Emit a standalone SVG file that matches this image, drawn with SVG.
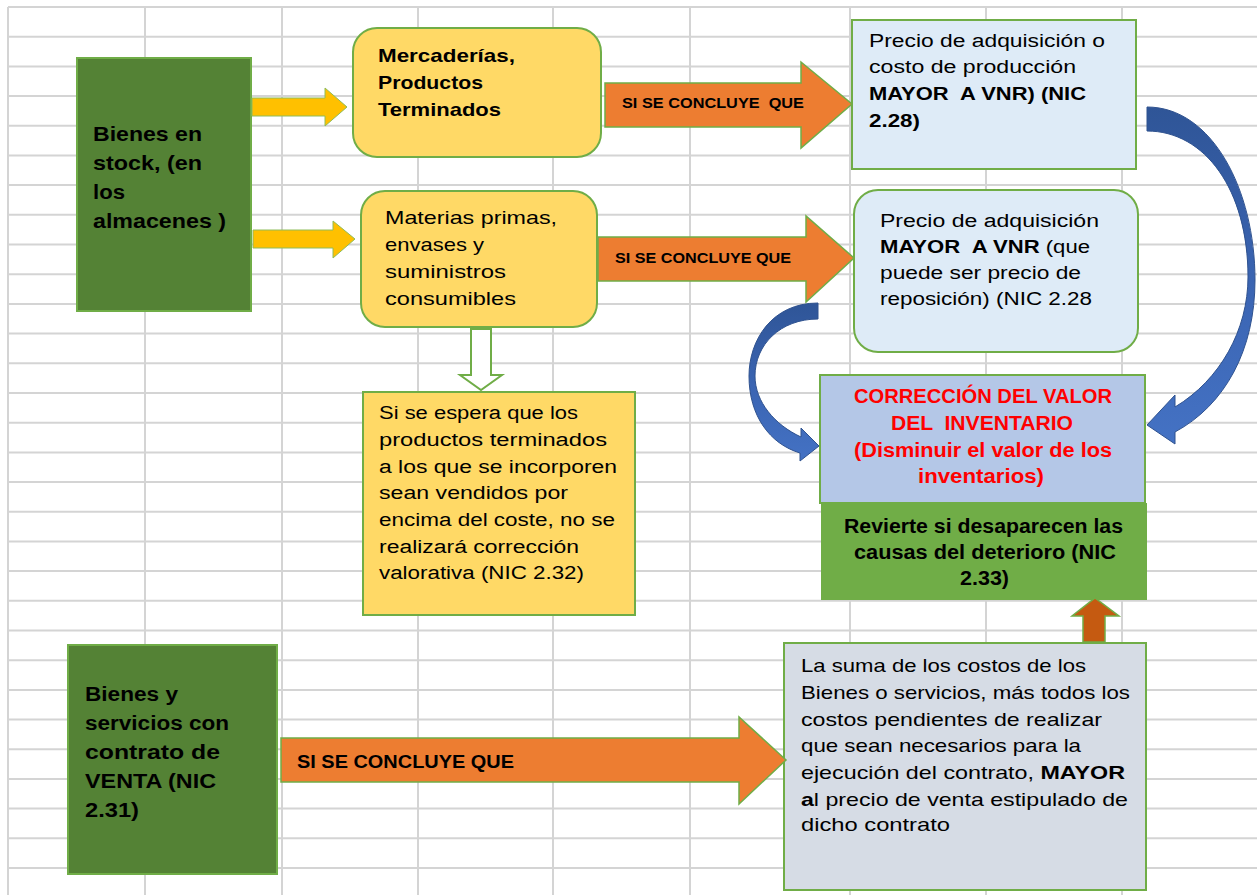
<svg xmlns="http://www.w3.org/2000/svg" width="1257" height="895" viewBox="0 0 1257 895">
<defs>
<linearGradient id="blueGrad" x1="0" y1="0" x2="0" y2="1">
<stop offset="0" stop-color="#2f5597"/>
<stop offset="0.55" stop-color="#3b65b3"/>
<stop offset="1" stop-color="#4472c4"/>
</linearGradient>
</defs>
<style>
.grid line{stroke:#d4d4d4;stroke-width:2}
.box{stroke:#70ad47;stroke-width:2}
.t{font-family:"Liberation Sans",Arial,sans-serif;fill:#000;white-space:pre}
.b{font-weight:bold}
.r{fill:#ff0000}
.arrowY{fill:#ffc000;stroke:#8fbc5a;stroke-width:1}
.arrowO{fill:#ed7d31;stroke:#70ad47;stroke-width:1.5}
.curve{fill:url(#blueGrad);stroke:#2f528f;stroke-width:1}
</style>
<rect width="1257" height="895" fill="#ffffff"/>
<g class="grid">
<line x1="8" y1="7" x2="8" y2="895"/>
<line x1="145" y1="7" x2="145" y2="895"/>
<line x1="282" y1="7" x2="282" y2="895"/>
<line x1="418" y1="7" x2="418" y2="895"/>
<line x1="553" y1="7" x2="553" y2="895"/>
<line x1="690" y1="7" x2="690" y2="895"/>
<line x1="850" y1="7" x2="850" y2="895"/>
<line x1="986" y1="7" x2="986" y2="895"/>
<line x1="1122" y1="7" x2="1122" y2="895"/>
<line x1="8" y1="7" x2="1257" y2="7"/>
<line x1="8" y1="36.7" x2="1257" y2="36.7"/>
<line x1="8" y1="66.4" x2="1257" y2="66.4"/>
<line x1="8" y1="96.1" x2="1257" y2="96.1"/>
<line x1="8" y1="125.8" x2="1257" y2="125.8"/>
<line x1="8" y1="155.5" x2="1257" y2="155.5"/>
<line x1="8" y1="185.1" x2="1257" y2="185.1"/>
<line x1="8" y1="214.8" x2="1257" y2="214.8"/>
<line x1="8" y1="244.5" x2="1257" y2="244.5"/>
<line x1="8" y1="274.2" x2="1257" y2="274.2"/>
<line x1="8" y1="303.9" x2="1257" y2="303.9"/>
<line x1="8" y1="333.6" x2="1257" y2="333.6"/>
<line x1="8" y1="363.3" x2="1257" y2="363.3"/>
<line x1="8" y1="393" x2="1257" y2="393"/>
<line x1="8" y1="422.7" x2="1257" y2="422.7"/>
<line x1="8" y1="452.4" x2="1257" y2="452.4"/>
<line x1="8" y1="482" x2="1257" y2="482"/>
<line x1="8" y1="511.7" x2="1257" y2="511.7"/>
<line x1="8" y1="541.4" x2="1257" y2="541.4"/>
<line x1="8" y1="571.1" x2="1257" y2="571.1"/>
<line x1="8" y1="600.8" x2="1257" y2="600.8"/>
<line x1="8" y1="630.5" x2="1257" y2="630.5"/>
<line x1="8" y1="660.2" x2="1257" y2="660.2"/>
<line x1="8" y1="689.9" x2="1257" y2="689.9"/>
<line x1="8" y1="719.6" x2="1257" y2="719.6"/>
<line x1="8" y1="749.3" x2="1257" y2="749.3"/>
<line x1="8" y1="778.9" x2="1257" y2="778.9"/>
<line x1="8" y1="808.6" x2="1257" y2="808.6"/>
<line x1="8" y1="838.3" x2="1257" y2="838.3"/>
<line x1="8" y1="868" x2="1257" y2="868"/>
</g>

<g id="bienes-stock">
<rect class="box" x="77" y="58" width="174" height="253" fill="#548235"/>
<text class="t b" font-size="21"><tspan x="93" y="141" textLength="109" lengthAdjust="spacingAndGlyphs">Bienes en</tspan></text>
<text class="t b" font-size="21"><tspan x="93" y="170" textLength="109" lengthAdjust="spacingAndGlyphs">stock, (en</tspan></text>
<text class="t b" font-size="21"><tspan x="93" y="199" textLength="32" lengthAdjust="spacingAndGlyphs">los</tspan></text>
<text class="t b" font-size="21"><tspan x="93" y="228" textLength="133" lengthAdjust="spacingAndGlyphs">almacenes )</tspan></text>
</g>

<g id="mercaderias">
<rect class="box" x="353" y="28" width="248" height="129" rx="24" fill="#ffd966"/>
<text class="t b" font-size="19" x="378" y="62" textLength="137" lengthAdjust="spacingAndGlyphs">Mercaderías,</text>
<text class="t b" font-size="19" x="378" y="89" textLength="105" lengthAdjust="spacingAndGlyphs">Productos</text>
<text class="t b" font-size="19" x="378" y="116" textLength="123" lengthAdjust="spacingAndGlyphs">Terminados</text>
</g>

<g id="materias-primas">
<rect class="box" x="361" y="191" width="236" height="136" rx="24" fill="#ffd966"/>
<text class="t" font-size="18.5" x="385" y="224" textLength="172" lengthAdjust="spacingAndGlyphs">Materias primas,</text>
<text class="t" font-size="18.5" x="385" y="251" textLength="99" lengthAdjust="spacingAndGlyphs">envases y</text>
<text class="t" font-size="18.5" x="385" y="278" textLength="121" lengthAdjust="spacingAndGlyphs">suministros</text>
<text class="t" font-size="18.5" x="385" y="305" textLength="131" lengthAdjust="spacingAndGlyphs">consumibles</text>
</g>

<g id="si-se-espera">
<rect class="box" x="363" y="392" width="272" height="223" fill="#ffd966"/>
<text class="t" font-size="18" x="379" y="419" textLength="199" lengthAdjust="spacingAndGlyphs">Si se espera que los</text>
<text class="t" font-size="18" x="379" y="446" textLength="228" lengthAdjust="spacingAndGlyphs">productos terminados</text>
<text class="t" font-size="18" x="379" y="473" textLength="238" lengthAdjust="spacingAndGlyphs">a los que se incorporen</text>
<text class="t" font-size="18" x="379" y="499" textLength="189" lengthAdjust="spacingAndGlyphs">sean vendidos por</text>
<text class="t" font-size="18" x="379" y="526" textLength="236" lengthAdjust="spacingAndGlyphs">encima del coste, no se</text>
<text class="t" font-size="18" x="379" y="553" textLength="200" lengthAdjust="spacingAndGlyphs">realizará corrección</text>
<text class="t" font-size="18" x="379" y="579" textLength="205" lengthAdjust="spacingAndGlyphs">valorativa (NIC 2.32)</text>
</g>

<g id="precio-costo">
<rect class="box" x="852" y="20" width="284" height="149" fill="#deebf7"/>
<text class="t" font-size="18" x="869" y="47" textLength="236" lengthAdjust="spacingAndGlyphs">Precio de adquisición o</text>
<text class="t" font-size="18" x="869" y="73" textLength="207" lengthAdjust="spacingAndGlyphs">costo de producción</text>
<text class="t b" font-size="18" x="869" y="100" textLength="217" lengthAdjust="spacingAndGlyphs">MAYOR  A VNR) (NIC</text>
<text class="t b" font-size="18" x="869" y="127" textLength="51" lengthAdjust="spacingAndGlyphs">2.28)</text>
</g>

<g id="precio-adquisicion">
<rect class="box" x="854" y="190" width="284" height="162" rx="24" fill="#deebf7"/>
<text class="t" font-size="18" x="880" y="227" textLength="219" lengthAdjust="spacingAndGlyphs">Precio de adquisición</text>
<text class="t" font-size="18" x="880" y="253" textLength="210" lengthAdjust="spacingAndGlyphs"><tspan class="b">MAYOR  A VNR</tspan> (que</text>
<text class="t" font-size="18" x="880" y="279" textLength="201" lengthAdjust="spacingAndGlyphs">puede ser precio de</text>
<text class="t" font-size="18" x="880" y="305" textLength="212" lengthAdjust="spacingAndGlyphs">reposición) (NIC 2.28</text>
</g>

<g id="correccion">
<rect class="box" x="820" y="375" width="325" height="128" fill="#b4c7e7"/>
<text class="t b r" font-size="20" x="854" y="403" textLength="258" lengthAdjust="spacingAndGlyphs">CORRECCIÓN DEL VALOR</text>
<text class="t b r" font-size="20" x="891" y="430" textLength="182" lengthAdjust="spacingAndGlyphs">DEL  INVENTARIO</text>
<text class="t b r" font-size="20" x="854" y="457" textLength="258" lengthAdjust="spacingAndGlyphs">(Disminuir el valor de los</text>
<text class="t b r" font-size="20" x="918" y="483" textLength="126" lengthAdjust="spacingAndGlyphs">inventarios)</text>
</g>

<g id="revierte">
<rect x="821" y="503" width="326" height="97" fill="#70ad47"/>
<text class="t b" font-size="19.5" x="844" y="533" textLength="279" lengthAdjust="spacingAndGlyphs">Revierte si desaparecen las</text>
<text class="t b" font-size="19.5" x="854" y="559" textLength="262" lengthAdjust="spacingAndGlyphs">causas del deterioro (NIC</text>
<text class="t b" font-size="19.5" x="960" y="585" textLength="49" lengthAdjust="spacingAndGlyphs">2.33)</text>
</g>

<g id="bienes-servicios">
<rect class="box" x="68" y="645" width="209" height="229" fill="#548235"/>
<text class="t b" font-size="20" x="85" y="701" textLength="93" lengthAdjust="spacingAndGlyphs">Bienes y</text>
<text class="t b" font-size="20" x="85" y="730" textLength="144" lengthAdjust="spacingAndGlyphs">servicios con</text>
<text class="t b" font-size="20" x="85" y="759" textLength="135" lengthAdjust="spacingAndGlyphs">contrato de</text>
<text class="t b" font-size="20" x="85" y="788" textLength="131" lengthAdjust="spacingAndGlyphs">VENTA (NIC</text>
<text class="t b" font-size="20" x="85" y="817" textLength="54" lengthAdjust="spacingAndGlyphs">2.31)</text>
</g>

<g id="la-suma">
<rect class="box" x="784" y="643" width="362" height="247" fill="#d6dce5"/>
<text class="t" font-size="18.5" x="801" y="672" textLength="285" lengthAdjust="spacingAndGlyphs">La suma de los costos de los</text>
<text class="t" font-size="18.5" x="801" y="699" textLength="329" lengthAdjust="spacingAndGlyphs">Bienes o servicios, más todos los</text>
<text class="t" font-size="18.5" x="801" y="726" textLength="301" lengthAdjust="spacingAndGlyphs">costos pendientes de realizar</text>
<text class="t" font-size="18.5" x="801" y="752" textLength="280" lengthAdjust="spacingAndGlyphs">que sean necesarios para la</text>
<text class="t" font-size="18.5" x="801" y="779" textLength="324" lengthAdjust="spacingAndGlyphs">ejecución del contrato, <tspan class="b">MAYOR</tspan></text>
<text class="t" font-size="18.5" x="801" y="806" textLength="327" lengthAdjust="spacingAndGlyphs"><tspan class="b">a</tspan>l precio de venta estipulado de</text>
<text class="t" font-size="18.5" x="801" y="831" textLength="149" lengthAdjust="spacingAndGlyphs">dicho contrato</text>
</g>

<g id="connectors">
<polygon class="arrowY" points="252,98 325,98 325,88 347,107 325,126 325,116 252,116"/>
<polygon class="arrowY" points="253,230 333,230 333,221 355,239 333,258 333,248 253,248"/>
<polygon class="arrowO" points="605,83 801,83 801,62 852,104 801,148 801,127 605,127"/>
<text class="t b" font-size="15.5" x="622" y="108" textLength="182" lengthAdjust="spacingAndGlyphs">SI SE CONCLUYE  QUE</text>
<polygon class="arrowO" points="598,237 806,237 806,216 854,258 806,302 806,281 598,281"/>
<text class="t b" font-size="15.5" x="615" y="263" textLength="176" lengthAdjust="spacingAndGlyphs">SI SE CONCLUYE QUE</text>
<polygon class="arrowO" points="281,738 739,738 739,717 786,760 739,804 739,782 281,782"/>
<text class="t b" font-size="18.5" x="297" y="768" textLength="217" lengthAdjust="spacingAndGlyphs">SI SE CONCLUYE QUE</text>
<polygon points="471,329 491,329 491,375 502,375 481,390 460,375 471,375" fill="#ffffff" stroke="#70ad47" stroke-width="2"/>
<path class="curve" d="M1147,107 C1212,107 1255,190 1255,280 C1255,350 1225,405 1175,432 L1175,444 L1147,425 L1175,395 L1175,407 C1220,380 1248,330 1248,277 C1248,190 1205,131 1147,131 Z"/>
<path class="curve" d="M818,303 C772,303 749,340 749,376 C749,416 770,444 800,453 L800,461 L819,446 L801,428 L801,437 C775,425 755,402 755,376 C755,345 780,319 818,319 Z"/>
<polygon points="1083,642 1083,616 1072,616 1095,598 1119,616 1105,616 1105,642" fill="#c55a11" stroke="#70ad47" stroke-width="1.5"/>
</g>
</svg>
